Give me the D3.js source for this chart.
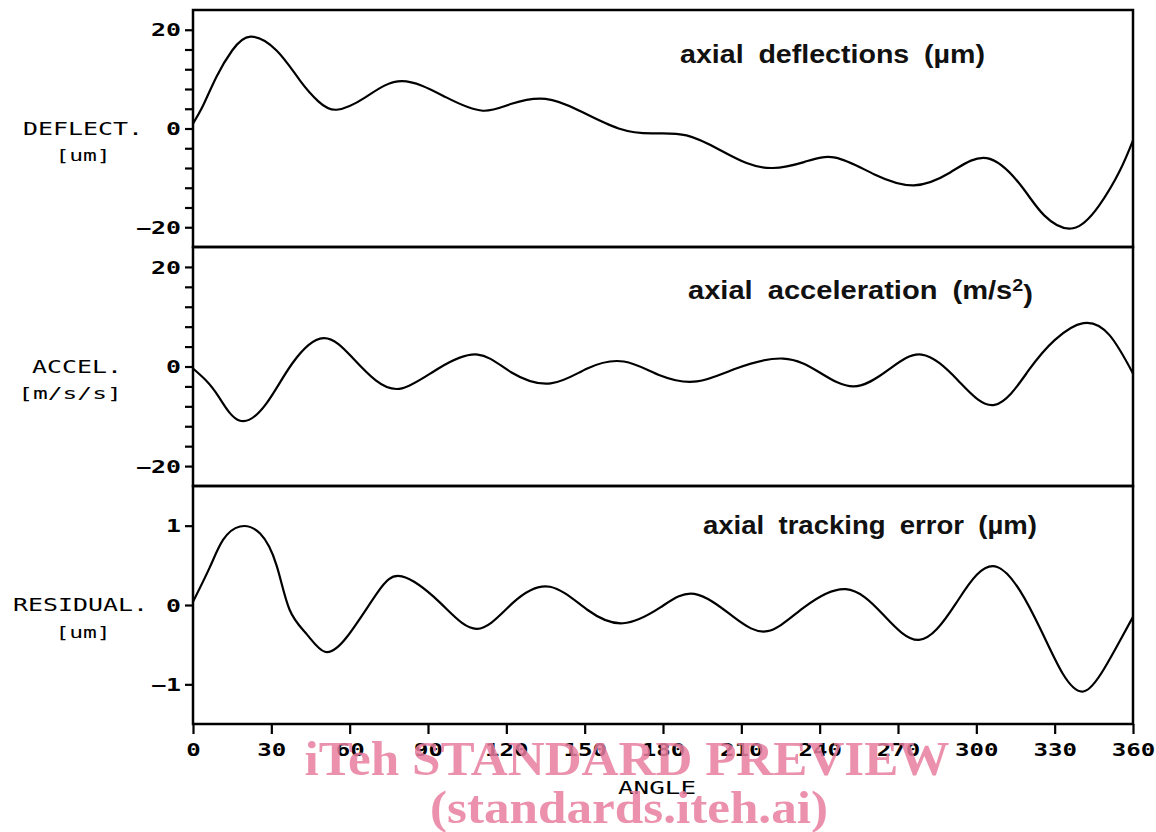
<!DOCTYPE html>
<html>
<head>
<meta charset="utf-8">
<script src="https://cdn.jsdelivr.net/npm/d3@7"></script>
<style>
  html, body { margin: 0; padding: 0; background: #fff; }
  svg { display: block; }
</style>
</head>
<body>
<svg id="chart" width="1156" height="832"></svg>
<script>
// ---------- data ----------
const deflAngle = [0, 4, 9, 15, 22, 32, 41, 48, 55, 66, 80, 97, 111, 122, 135, 148, 163, 176, 189, 202, 212, 222, 234, 246, 261, 276, 290, 304, 317, 326, 337, 347, 355, 360];
const deflValue = [1.0, 4.8, 10.5, 15.8, 18.6, 15.8, 9.7, 5.5, 3.8, 6.3, 9.6, 6.3, 3.6, 5.0, 6.0, 3.6, 0, -1.0, -1.4, -4.4, -7.0, -8.0, -6.8, -5.9, -9.3, -11.5, -8.9, -6.0, -11.5, -17.6, -20.2, -15.6, -8.5, -2.4];

const accelAngle = [0, 5, 10, 18, 28, 38, 50, 61, 70, 80, 94, 109, 122, 137, 151, 165, 179, 193, 208, 226, 240, 253, 266, 279, 293, 307, 320, 330, 341, 351, 360];
const accelValue = [-0.4, -2.8, -6.2, -10.9, -7.5, 0.6, 5.7, 1.8, -2.8, -4.4, -0.4, 2.4, -1.2, -3.4, -0.4, 1.0, -1.8, -3.0, -0.4, 1.6, -1.2, -4.0, -0.8, 2.4, -2.8, -7.7, -0.8, 5.3, 8.7, 6.3, -1.4];

const residAngle = [0, 6.5, 11.5, 18, 25.7, 32, 37, 43.6, 50.5, 59, 70.5, 80, 94.6, 108.8, 122.6, 136.7, 151, 164.7, 179, 192, 207, 220, 234, 250, 264, 278, 292, 308, 324.5, 333, 341, 349, 355, 360];
const residValue = [0.04, 0.48, 0.82, 0.99, 0.9, 0.5, -0.06, -0.37, -0.59, -0.4, 0.15, 0.36, 0.03, -0.3, 0.03, 0.23, -0.06, -0.23, -0.03, 0.14, -0.15, -0.33, -0.03, 0.2, -0.11, -0.44, 0.01, 0.48, -0.3, -0.86, -1.09, -0.8, -0.45, -0.15];

const xTicks = [0, 30, 60, 90, 120, 150, 180, 210, 240, 270, 300, 330, 360];
const accelDeflTicks = [-20, -16, -12, -8, -4, 0, 4, 8, 12, 16, 20];
const accelDeflLabeled = [-20, 0, 20];
const residTicks = [-1, 0, 1];

const panelTitles = ["axial deflections (\u00B5m)", "axial acceleration (m/s", "axial tracking error (\u00B5m)"];
const yNames = ["DEFLECT.", "ACCEL.", "RESIDUAL."];
const yUnits = ["[um]", "[m/s/s]", "[um]"];
const xName = "ANGLE";

// ---------- layout ----------
const svg = d3.select("#chart");
const left = 193, right = 1133;
const x = d3.scaleLinear().domain([0, 360]).range([left, right]);

const panels = [
  { top: 10,  bottom: 247, domain: [-24, 24], ticks: accelDeflTicks, labeled: accelDeflLabeled, ang: deflAngle, val: deflValue },
  { top: 247, bottom: 486, domain: [-24, 24], ticks: accelDeflTicks, labeled: accelDeflLabeled, ang: accelAngle, val: accelValue },
  { top: 486, bottom: 724, domain: [-1.5, 1.5], ticks: residTicks, labeled: residTicks, ang: residAngle, val: residValue }
];

const monoFont = "'DejaVu Sans Mono', 'Liberation Mono', monospace";
const titleFont = "'Liberation Sans', Arial, Helvetica, sans-serif";

panels.forEach((p, i) => {
  const y = d3.scaleLinear().domain(p.domain).range([p.bottom, p.top]);
  p.y = y;

  // frame
  svg.append("rect")
    .attr("x", left).attr("y", p.top)
    .attr("width", right - left).attr("height", p.bottom - p.top)
    .attr("fill", "none").attr("stroke", "#000").attr("stroke-width", 2.5);

  // left axis ticks
  const ax = d3.axisLeft(y)
    .tickValues(p.ticks)
    .tickSize(8)
    .tickPadding(4)
    .tickFormat(d => p.labeled.includes(d) ? String(d).replace("-", "\u2212") : "");
  const g = svg.append("g").attr("transform", `translate(${left},0)`).call(ax);
  g.select(".domain").remove();
  g.selectAll(".tick line").attr("stroke", "#000").attr("stroke-width", 2.2);
  g.selectAll(".tick text")
    .attr("font-family", monoFont).attr("font-weight", "bold")
    .attr("font-size", 17).attr("fill", "#000")
    .attr("dy", "0.36em")
    .each(function(d) {
      const t = d3.select(this).text();
      if (t.length) d3.select(this).attr("textLength", 15 * t.length).attr("lengthAdjust", "spacingAndGlyphs");
    });

  // curve
  const pts = p.ang.map((a, k) => [a, p.val[k]]);
  const line = d3.line().x(d => x(d[0])).y(d => y(d[1])).curve(d3.curveNatural);
  svg.append("path").datum(pts)
    .attr("d", line)
    .attr("fill", "none").attr("stroke", "#000").attr("stroke-width", 2.2)
    .attr("stroke-linejoin", "round");

  // y name and unit
  const y0 = y(0);
  const nameW = yNames[i].length * 15;
  const nameRight = i === 2 ? 148 : (i === 0 ? 143 : 122);
  svg.append("text")
    .attr("x", nameRight - nameW).attr("y", y0)
    .attr("dy", "0.36em")
    .attr("font-family", monoFont).attr("font-size", 17).attr("fill", "#000")
    .attr("textLength", nameW).attr("lengthAdjust", "spacingAndGlyphs")
    .text(yNames[i]);
  const unitW = yUnits[i].length * (i === 1 ? 14.8 : 13.8);
  const unitCx = i === 1 ? 70 : 83;
  svg.append("text")
    .attr("x", unitCx - unitW / 2).attr("y", y0 + 27)
    .attr("dy", "0.36em")
    .attr("font-family", monoFont).attr("font-size", 16).attr("fill", "#000")
    .attr("textLength", unitW).attr("lengthAdjust", "spacingAndGlyphs")
    .text(yUnits[i]);
});

// panel titles
const titlePos = [
  { x1: 680, x2: 985, cy: 54 },
  { x1: 688, x2: 1033, cy: 290 },
  { x1: 703, x2: 1037, cy: 525 }
];
panels.forEach((p, i) => {
  const tp = titlePos[i];
  const t = svg.append("text")
    .attr("x", tp.x1).attr("y", tp.cy)
    .attr("dy", "0.36em")
    .attr("font-family", titleFont).attr("font-weight", "bold")
    .attr("font-size", 25).attr("fill", "#111")
    .attr("word-spacing", 6)
    .attr("textLength", tp.x2 - tp.x1).attr("lengthAdjust", "spacingAndGlyphs");
  if (i === 1) {
    t.append("tspan").text(panelTitles[i]);
    t.append("tspan").attr("dy", "-0.45em").attr("font-size", 17).text("2");
    t.append("tspan").attr("dy", "0.45em").text(")");
  } else {
    t.text(panelTitles[i]);
  }
});

// bottom x axis
const xa = d3.axisBottom(x).tickValues(xTicks).tickSize(10).tickPadding(10)
  .tickFormat(d => String(d));
const gx = svg.append("g").attr("transform", `translate(0,${panels[2].bottom})`).call(xa);
gx.select(".domain").remove();
gx.selectAll(".tick line").attr("stroke", "#000").attr("stroke-width", 2.2);
gx.selectAll(".tick text")
  .attr("font-family", monoFont).attr("font-weight", "bold")
  .attr("font-size", 17).attr("fill", "#000")
  .each(function() {
    const t = d3.select(this).text();
    d3.select(this).attr("textLength", 14.5 * t.length).attr("lengthAdjust", "spacingAndGlyphs");
  });

svg.append("text")
  .attr("x", 657).attr("y", 788).attr("dy", "0.36em")
  .attr("text-anchor", "middle")
  .attr("font-family", monoFont).attr("font-size", 17).attr("fill", "#000")
  .attr("textLength", 78).attr("lengthAdjust", "spacingAndGlyphs")
  .text(xName);

// watermark
const wm = svg.append("g").attr("fill", "#e77e9f").attr("fill-opacity", 0.85)
  .attr("font-family", "'Liberation Serif', 'Times New Roman', serif").attr("font-weight", "bold");
wm.append("text").attr("x", 627).attr("y", 758).attr("dy", "0.35em")
  .attr("text-anchor", "middle").attr("font-size", 48)
  .attr("textLength", 645).attr("lengthAdjust", "spacingAndGlyphs")
  .text("iTeh STANDARD PREVIEW");
wm.append("text").attr("x", 629).attr("y", 807).attr("dy", "0.35em")
  .attr("text-anchor", "middle").attr("font-size", 46)
  .attr("textLength", 398).attr("lengthAdjust", "spacingAndGlyphs")
  .text("(standards.iteh.ai)");
</script>
</body>
</html>
